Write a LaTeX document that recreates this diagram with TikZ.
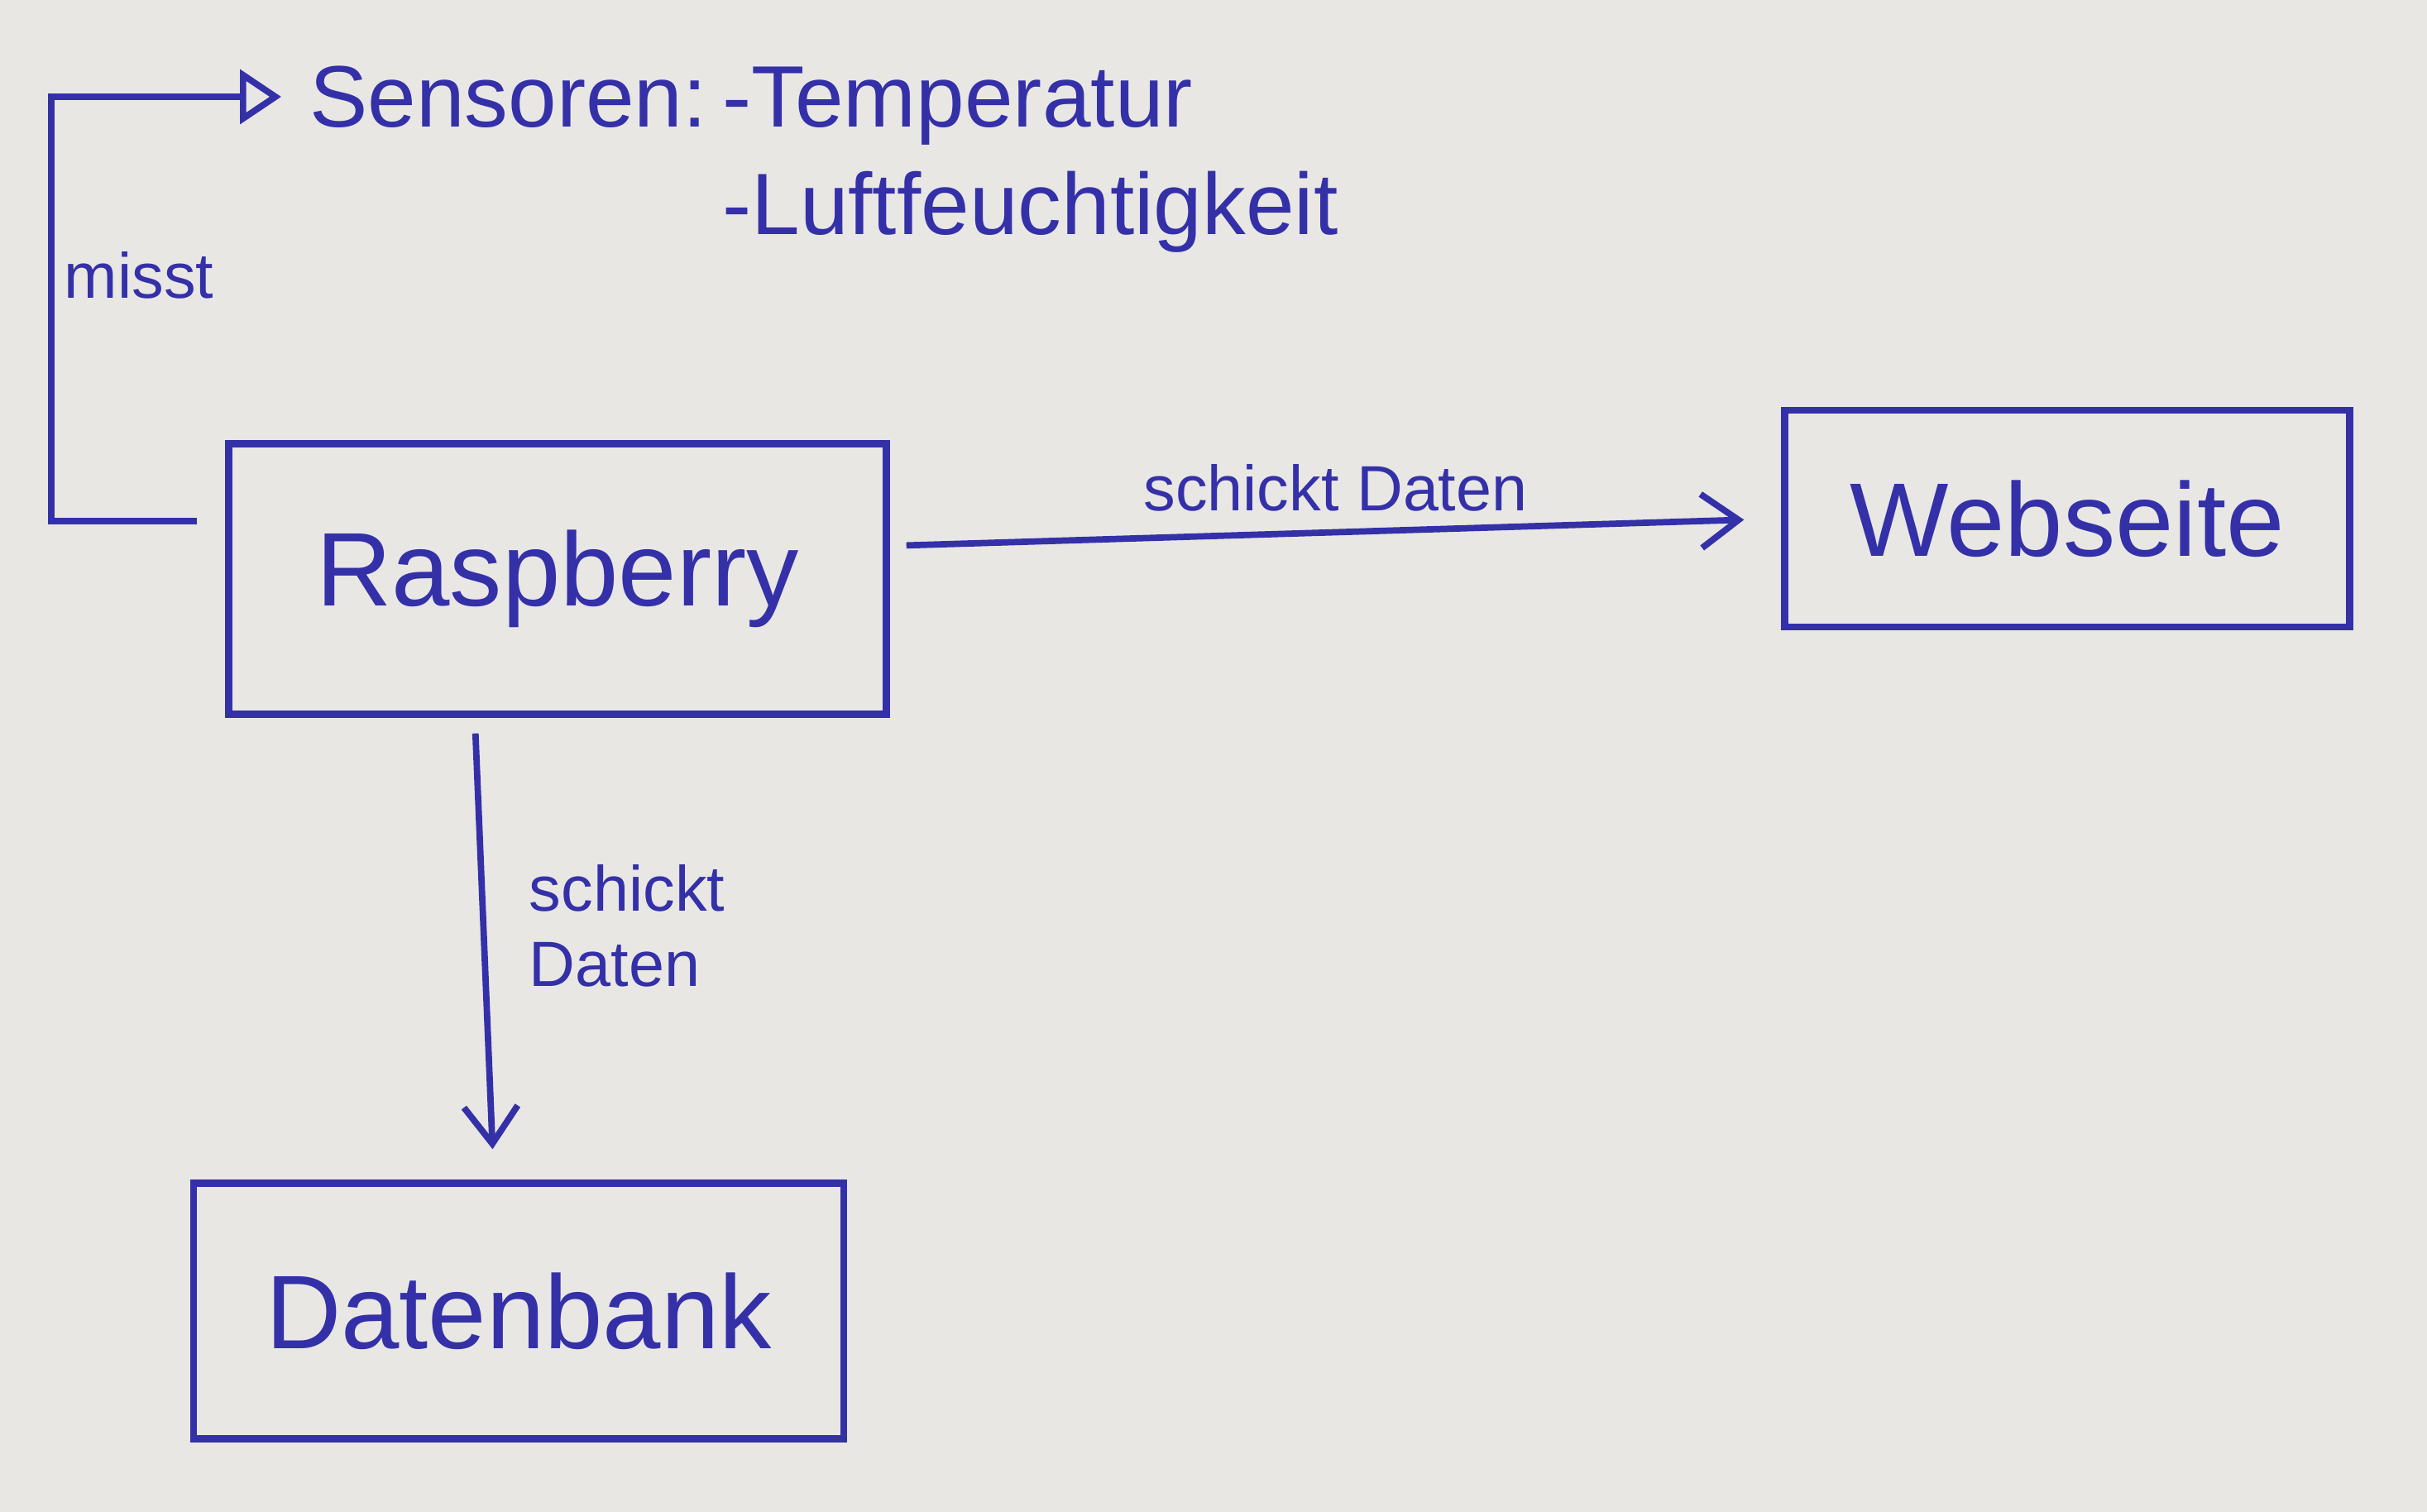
\documentclass[tikz,border=0pt]{standalone}
\usepackage{fontspec}
\setmainfont{Liberation Sans}
\usetikzlibrary{positioning,arrows.meta}
\definecolor{ink}{RGB}{52,48,168}
\definecolor{paper}{RGB}{233,231,228}
\tikzset{
  box/.style={draw=ink, line width=2.4pt, text=ink, font=\fontsize{36}{40}\selectfont},
  schrift/.style={text=ink, font=\fontsize{30}{36}\selectfont, inner sep=1pt},
  beschriftung/.style={text=ink, font=\fontsize{22}{26}\selectfont},
  pfeil/.style={draw=ink, line width=2.2pt, -{Straight Barb[length=4.5mm,width=6.5mm]}},
}
\begin{document}
\begin{tikzpicture}
    % Hintergrund
    \fill[paper] (0,0) rectangle (29.34,-18.28);
    \useasboundingbox (0,0) rectangle (29.34,-18.28);

    % Kaesten
    \node[box, minimum width=7.95cm, minimum height=3.27cm] (raspberry) at (6.74,-7.00) {Raspberry};
    \node[box, minimum width=6.83cm, minimum height=2.62cm] (webseite) at (24.99,-6.27) {Webseite};
    \node[box, minimum width=7.86cm, minimum height=3.09cm] (datenbank) at (6.27,-15.85) {Datenbank};

    % Sensoren
    \node[schrift, anchor=west] (sensoren) at (3.70,-1.17) {Sensoren:};
    \node[schrift, anchor=base west] (temperatur) at ([xshift=1mm]sensoren.base east) {-Temperatur};
    \node[schrift, anchor=base west] (feuchte) at ([yshift=-1.3cm]temperatur.base west) {-Luftfeuchtigkeit};

    % Pfeile
    \draw[pfeil, -{Triangle[open, length=5mm, width=6.5mm]}, shorten <=3.4mm, shorten >=3mm]
        ([yshift=7mm]raspberry.west) -- ++(-2.1,0) |- node[beschriftung, pos=0.29, right] (misst) {misst} (sensoren.west);
    \draw[pfeil, shorten <=2mm, shorten >=4.5mm]
        ([yshift=4mm]raspberry.east) -- node[beschriftung, above=1mm] (daten1) {schickt Daten} (webseite.west);
    \draw[pfeil, shorten <=1.9mm, shorten >=3.7mm]
        ([xshift=-10mm]raspberry.south) -- node[beschriftung, pos=0.45, right=4mm, align=left] (daten2) {schickt\\Daten} ([xshift=-3mm]datenbank.north);
\end{tikzpicture}
\end{document}
